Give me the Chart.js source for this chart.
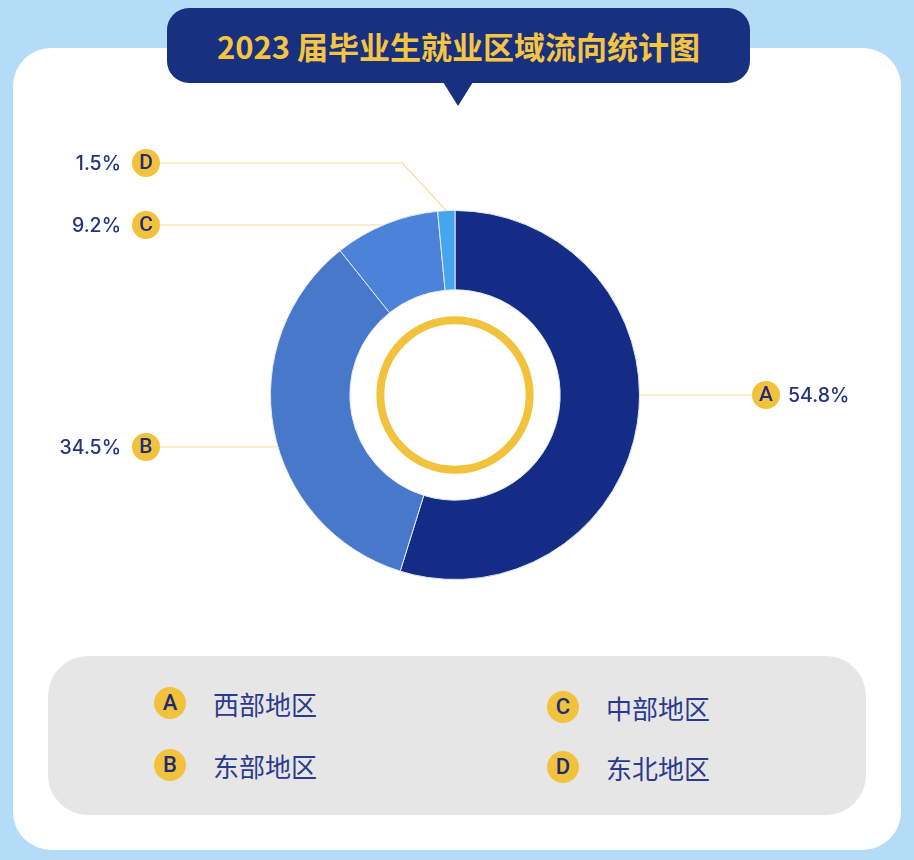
<html lang="zh">
<head>
<meta charset="utf-8" />
<title>2023 届毕业生就业区域流向统计图</title>
<script src="https://cdn.jsdelivr.net/npm/chart.js@4.4.0/dist/chart.umd.min.js"></script>
<style>
* { margin: 0; padding: 0; box-sizing: border-box; }
body {
  width: 914px;
  height: 860px;
  background: #b5dcf7;
  position: relative;
  overflow: hidden;
  font-family: "Noto Sans CJK SC", "Noto Sans", sans-serif;
}
.card {
  position: absolute;
  left: 13px;
  top: 48px;
  width: 888px;
  height: 802px;
  background: #ffffff;
  border-radius: 38px;
}
.banner {
  position: absolute;
  left: 167px;
  top: 8px;
  width: 583px;
  height: 75px;
  background: #17307f;
  border-radius: 22px;
  color: #f5c542;
  font-weight: 700;
  font-size: 31px;
  line-height: 75px;
  text-align: center;
}
.banner::after {
  content: "";
  position: absolute;
  left: 276px;
  top: 74px;
  border-left: 15px solid transparent;
  border-right: 15px solid transparent;
  border-top: 24px solid #17307f;
}
#chart-wrap {
  position: absolute;
  left: 0;
  top: 0;
  width: 914px;
  height: 640px;
}
.legend {
  position: absolute;
  left: 48px;
  top: 656px;
  width: 818px;
  height: 159px;
  background: #e6e6e6;
  border-radius: 40px;
}
.item {
  position: absolute;
  display: flex;
  align-items: center;
  height: 32px;
}
.badge {
  width: 32px;
  height: 32px;
  border-radius: 50%;
  background: #f3c23c;
  color: #1d2c78;
  font-family: Roboto, sans-serif;
  font-weight: 500;
  font-size: 22px;
  text-align: center;
  line-height: 32px;
}
.item span.name {
  margin-left: 27px;
  font-size: 26px;
  color: #2b3a8e;
}
</style>
</head>
<body>
<div class="card"></div>
<div class="banner">2023 届毕业生就业区域流向统计图</div>
<div id="chart-wrap"><canvas id="pie"></canvas></div>
<div class="legend" id="legend"></div>

<script>
// Region data
const letters = ["A", "B", "C", "D"];
const regions = ["西部地区", "东部地区", "中部地区", "东北地区"];
const shares = [54.8, 34.5, 9.2, 1.5];
const sliceColors = ["#142c85", "#4778ca", "#4c83d8", "#45a6ef"];

// where each callout sits (side of the chart and its height)
const calloutSide = ["right", "left", "left", "left"];
const calloutY = [395, 447, 225, 163];

const gold = "#f3c23c";
const navy = "#1f2d7a";

// legend in the grey box (two columns)
const legend = document.getElementById("legend");
const legendPos = [[106, 31], [106, 93], [499, 35], [499, 95]];
letters.forEach((l, i) => {
  const div = document.createElement("div");
  div.className = "item";
  div.style.left = legendPos[i][0] + "px";
  div.style.top = legendPos[i][1] + "px";
  div.innerHTML = `<div class="badge">${l}</div><span class="name">${regions[i]}</span>`;
  legend.appendChild(div);
});

// draws the gold ring in the hole and the callout lines + labels
const calloutPlugin = {
  id: "callouts",
  afterDatasetsDraw(chart) {
    const ctx = chart.ctx;
    const arcs = chart.getDatasetMeta(0).data;
    const cx = arcs[0].x, cy = arcs[0].y;
    const R = arcs[0].outerRadius;
    const r = arcs[0].innerRadius;

    // gold ring
    ctx.save();
    ctx.beginPath();
    ctx.arc(cx, cy, r * 0.71, 0, Math.PI * 2);
    ctx.lineWidth = 8;
    ctx.strokeStyle = gold;
    ctx.stroke();
    ctx.restore();

    arcs.forEach((arc, i) => {
      const y = calloutY[i];
      const left = calloutSide[i] === "left";
      const badgeX = left ? 146 : 766;
      ctx.save();
      ctx.strokeStyle = "#f5dc92";
      ctx.lineWidth = 1.2;
      ctx.beginPath();
      ctx.moveTo(badgeX + (left ? 14 : -14), y);
      const dy = y - cy;
      if (Math.abs(dy) < R) {
        const dx = Math.sqrt(R * R - dy * dy);
        ctx.lineTo(left ? cx - dx : cx + dx, y);
      } else {
        const mid = (arc.startAngle + arc.endAngle) / 2;
        const px = cx + Math.cos(mid) * R;
        const py = cy + Math.sin(mid) * R;
        ctx.lineTo(px - 44, y);
        ctx.lineTo(px, py);
      }
      ctx.stroke();

      // badge
      ctx.beginPath();
      ctx.arc(badgeX, y, 14, 0, Math.PI * 2);
      ctx.fillStyle = gold;
      ctx.fill();
      ctx.fillStyle = navy;
      ctx.font = "500 21px Roboto, sans-serif";
      ctx.textAlign = "center";
      ctx.textBaseline = "middle";
      ctx.fillText(letters[i], badgeX, y + 1);

      // percentage
      ctx.font = "500 19.5px Inter, sans-serif";
      ctx.fillStyle = "#25337d";
      ctx.textAlign = left ? "right" : "left";
      ctx.fillText(shares[i].toFixed(1) + "%", left ? 121 : 788, y + 1);
      ctx.restore();
    });
  }
};

new Chart(document.getElementById("pie"), {
  type: "doughnut",
  plugins: [calloutPlugin],
  data: {
    labels: regions,
    datasets: [{
      data: shares,
      backgroundColor: sliceColors,
      borderColor: "#dfe9f8",
      borderWidth: 1
    }]
  },
  options: {
    responsive: true,
    maintainAspectRatio: false,
    animation: false,
    cutout: "57%",
    layout: { padding: { left: 270, right: 274, top: 210, bottom: 60 } },
    plugins: {
      legend: { display: false },
      tooltip: { enabled: false }
    }
  }
});
</script>
</body>
</html>
